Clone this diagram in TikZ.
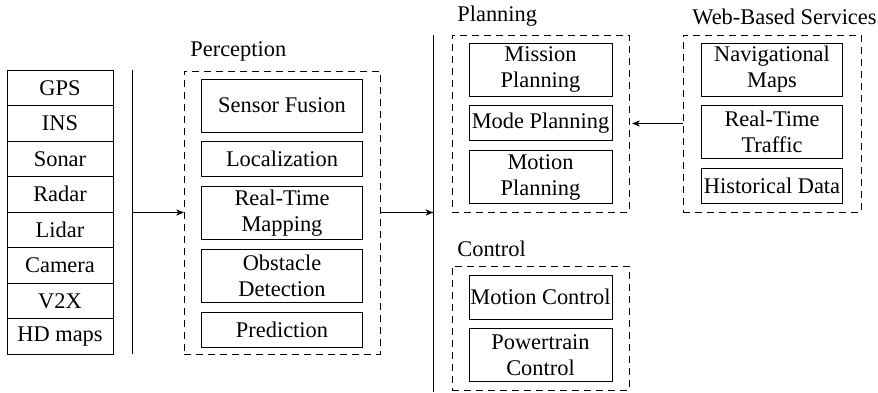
\documentclass[tikz,border=0pt]{standalone}
\usepackage{fontspec}
\setmainfont{Liberation Serif}
\usetikzlibrary{arrows,positioning}

\begin{document}
\begin{tikzpicture}[x=0.5pt,y=-0.5pt,>=stealth',node distance=4.5pt,
        every node/.style={font=\fontsize{11.2}{13}\selectfont},
        sensor node/.style={draw,outer sep=0pt,inner sep=0pt,minimum width=53pt,minimum height=17.75pt},
        block node/.style={draw,align=center,inner sep=0pt,minimum width=71.5pt,minimum height=17.5pt},
        tall block/.style={block node,minimum height=26.5pt},
        group node/.style={draw,dash pattern=on 3.5pt off 2.5pt,inner sep=0pt},
        group label/.style={anchor=west,inner sep=0pt}]
        \useasboundingbox (0,0) rectangle (878,392);

        % sensors
        \node[sensor node] (gps) at (60,87.75) {GPS};
        \node[sensor node] (ins) [below=0pt of gps] {INS};
        \node[sensor node] (sonar) [below=0pt of ins] {Sonar};
        \node[sensor node] (radar) [below=0pt of sonar] {Radar};
        \node[sensor node] (lidar) [below=0pt of radar] {Lidar};
        \node[sensor node] (camera) [below=0pt of lidar] {Camera};
        \node[sensor node] (v2x) [below=0pt of camera] {V2X};
        \node[sensor node] (hdmaps) [below=0pt of v2x] {HD maps};

        \coordinate (bus1top) at (132,70);
        \coordinate (bus1bot) at (132,354);
        \draw (bus1top) -- (bus1bot);

        % perception
        \node[group node,minimum width=98pt,minimum height=141.5pt] (percep) at (282,212.5) {};
        \node[group label] (lblpercep) at (190,51.5) {Perception};
        \node[tall block,minimum width=80.5pt] (fusion) [below=4pt of percep.north] {Sensor Fusion};
        \node[block node,minimum width=80.5pt] (local) [below=of fusion] {Localization};
        \node[tall block,minimum width=80.5pt] (mapping) [below=of local] {Real-Time\\Mapping};
        \node[tall block,minimum width=80.5pt] (obstacle) [below=of mapping] {Obstacle\\Detection};
        \node[block node,minimum width=80.5pt] (predict) [below=of obstacle] {Prediction};

        \coordinate (bus2top) at (433,35);
        \coordinate (bus2bot) at (433,392);
        \draw (bus2top) -- (bus2bot);

        % planning
        \node[group node,minimum width=88.5pt,minimum height=88.5pt] (plan) at (540.5,123.5) {};
        \node[group label] (lblplan) at (457,16.5) {Planning};
        \node[tall block] (mission) [below=4pt of plan.north] {Mission\\Planning};
        \node[block node] (mode) [below=of mission] {Mode Planning};
        \node[tall block] (motion) [below=of mode] {Motion\\Planning};

        % control
        \node[group node,minimum width=88.5pt,minimum height=62pt] (ctrl) at (540.5,328) {};
        \node[group label] (lblctrl) at (457,249) {Control};
        \node[block node,minimum height=22pt] (motctrl) [below=4.5pt of ctrl.north] {Motion Control};
        \node[tall block] (power) [below=of motctrl] {Powertrain\\Control};

        % web services
        \node[group node,minimum width=89pt,minimum height=88.5pt] (web) at (772,123.5) {};
        \node[group label] (lblweb) at (692,16.5) {Web-Based Services};
        \node[tall block,minimum width=70.5pt] (navmaps) [below=4pt of web.north] {Navigational\\Maps};
        \node[tall block,minimum width=70.5pt] (traffic) [below=of navmaps] {Real-Time\\Traffic};
        \node[block node,minimum width=70.5pt] (history) [below=of traffic] {Historical Data};

        \draw[->] (bus1top |- percep.west) -- (percep.west);
        \draw[->] (percep.east) -- (percep.east -| bus2top);
        \draw[->,shorten >=1.5pt] (web.west) -- (plan.east);
\end{tikzpicture}
\end{document}
